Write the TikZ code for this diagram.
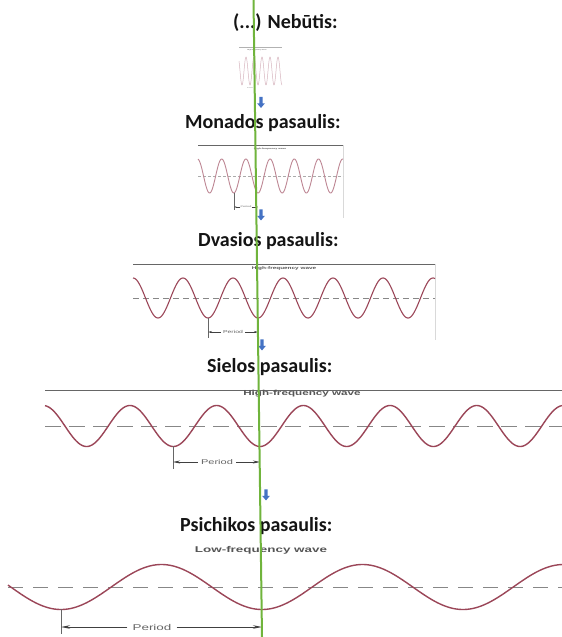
\documentclass[tikz,border=0pt]{standalone}
\usepackage{fontspec}
\setmainfont{Carlito}
\newfontfamily\wideb{Liberation Sans}[FakeStretch=1.6]
\usetikzlibrary{arrows.meta,shapes.arrows}
\definecolor{wavec}{RGB}{155,70,88}
\definecolor{wavelight}{RGB}{190,135,148}
\definecolor{wavefaint}{RGB}{215,180,190}
\definecolor{grn}{RGB}{112,180,60}
\definecolor{blu}{RGB}{68,114,196}
\definecolor{dashc}{RGB}{135,135,135}
\definecolor{labelc}{RGB}{85,85,85}
\definecolor{titlec}{RGB}{20,20,20}
\tikzset{
  title/.style={font=\bfseries\fontsize{20}{24}\selectfont, text=titlec, inner sep=0pt, anchor=base west},
  bluearrow/.style={single arrow, fill=blu, draw=none, rotate=-90, minimum height=11pt, minimum width=7.5pt, single arrow head extend=2.2pt, inner sep=1.4pt, single arrow tip angle=80},
  frameline/.style={draw=black!60, line width=0.7pt},
  sideline/.style={draw=black!15, line width=0.6pt},
  tick/.style={draw=black!60, line width=0.7pt},
  wlabel/.style={text=labelc, inner sep=0pt},
  plabel/.style={text=black!60, inner sep=0pt},
  parrow/.style={draw=black!75, line width=0.6pt},
  greenline/.style={draw=grn, line width=2pt},
}
\begin{document}
\begin{tikzpicture}[x=1pt,y=-1pt]
\fill[white] (0,0) rectangle (562,637);
\useasboundingbox (0,0) rectangle (562,637);

% ---------- Section 1 : Nebutis ----------
\node[title] (t1) at (233,28) {(...) Nebūtis:};
\coordinate (f1a) at (239,47); \coordinate (f1b) at (282,47);
\draw[draw=black!30, line width=0.4pt] (f1a) -- (f1b);
\draw[wavefaint, line width=0.5pt] plot[domain=239:282, samples=220] (\x,{71+14*cos(((\x-258)/8)*360)});
\node[wlabel, font=\wideb\bfseries\fontsize{1.2}{1.4}\selectfont] (l1) at (257,50) {High-frequency wave};
\node[plabel, font=\wideb\fontsize{1.2}{1.4}\selectfont] (p1) at (250,88) {Period};

% ---------- Section 2 : Monados ----------
\node[title] (t2) at (185,128) {Monados pasaulis:};
\coordinate (f2a) at (198,145); \coordinate (f2b) at (343,145); \coordinate (f2c) at (343,218);
\draw[frameline, line width=0.5pt] (f2a) -- (f2b);
\draw[sideline] (f2b) -- (f2c);
\coordinate (d2a) at (198,176); \coordinate (d2b) at (343,176);
\draw[dashc!70, line width=0.6pt, dash pattern=on 3pt off 2pt] (d2a) -- (d2b);
\draw[wavelight, line width=0.9pt] plot[domain=198:343, samples=300] (\x,{176+17*cos(((\x-258)/24.2)*360)});
\node[wlabel, font=\wideb\bfseries\fontsize{2}{2.4}\selectfont] (l2) at (270,149) {High-frequency wave};
\coordinate (k2a) at (234,193); \coordinate (k2b) at (234,210);
\draw[tick, line width=0.4pt] (k2a) -- (k2b);
\node[plabel, font=\wideb\fontsize{2.3}{2.6}\selectfont] (p2) at (246,207) {Period};
\coordinate (a2l) at (234,207); \coordinate (a2r) at (258,207);
\draw[parrow, line width=0.35pt, -{Stealth[length=2.5pt,width=1.4pt]}] (p2.west) -- (a2l);
\draw[parrow, line width=0.35pt, -{Stealth[length=2.5pt,width=1.4pt]}] (p2.east) -- (a2r);

% ---------- Section 3 : Dvasios ----------
\node[title] (t3) at (198,246) {Dvasios pasaulis:};
\coordinate (f3a) at (133,264); \coordinate (f3b) at (435,264); \coordinate (f3c) at (435,340);
\draw[frameline] (f3a) -- (f3b);
\draw[sideline] (f3b) -- (f3c);
\coordinate (d3a) at (133,298); \coordinate (d3b) at (435,298);
\draw[dashc, line width=0.7pt, dash pattern=on 6pt off 4pt] (d3a) -- (d3b);
\draw[wavec, line width=1.1pt] plot[domain=133:435, samples=400] (\x,{298+20*cos(((\x-258)/50)*360)});
\node[wlabel, font=\wideb\bfseries\fontsize{4}{4.8}\selectfont] (l3) at (284,268) {High-frequency wave};
\coordinate (k3a) at (208,318); \coordinate (k3b) at (208,338);
\draw[tick, line width=0.5pt] (k3a) -- (k3b);
\node[plabel, font=\wideb\fontsize{4.3}{5}\selectfont] (p3) at (233,332) {Period};
\coordinate (a3l) at (208,332); \coordinate (a3r) at (258,332);
\draw[parrow, line width=0.5pt, -{Stealth[length=4pt,width=2pt]}] ([xshift=-2pt]p3.west) -- (a3l);
\draw[parrow, line width=0.5pt, -{Stealth[length=4pt,width=2pt]}] ([xshift=2pt]p3.east) -- (a3r);

% ---------- Section 4 : Sielos ----------
\node[title] (t4) at (207,372) {Sielos pasaulis:};
\coordinate (f4a) at (45,390); \coordinate (f4b) at (562,390);
\draw[frameline, line width=0.8pt] (f4a) -- (f4b);
\coordinate (d4a) at (45,426); \coordinate (d4b) at (562,426);
\draw[dashc, line width=0.8pt, dash pattern=on 16pt off 8pt] (d4a) -- (d4b);
\draw[wavec, line width=1.4pt] plot[domain=45:562, samples=500] (\x,{426+20.5*cos(((\x-260)/86.7)*360)});
\node[wlabel, font=\wideb\bfseries\fontsize{7.3}{8}\selectfont] (l4) at (302,394) {High-frequency wave};
\coordinate (k4a) at (173,446); \coordinate (k4b) at (173,469);
\draw[tick] (k4a) -- (k4b);
\node[plabel, font=\wideb\fontsize{6.9}{8}\selectfont] (p4) at (217,462) {Period};
\coordinate (a4l) at (173,462); \coordinate (a4r) at (260,462);
\draw[parrow, line width=0.7pt, -{Stealth[length=7pt,width=3pt]}] ([xshift=-3pt]p4.west) -- (a4l);
\draw[parrow, line width=0.7pt, -{Stealth[length=7pt,width=3pt]}] ([xshift=3pt]p4.east) -- (a4r);

% ---------- Section 5 : Psichikos ----------
\node[title] (t5) at (180,531) {Psichikos pasaulis:};
\coordinate (d5a) at (8,587); \coordinate (d5b) at (562,587);
\draw[dashc, line width=0.9pt, dash pattern=on 15pt off 10pt] (d5a) -- (d5b);
\draw[wavec, line width=1.4pt] plot[domain=8:562, samples=500] (\x,{587+22.5*cos(((\x-262)/201)*360)});
\node[wlabel, font=\wideb\bfseries\fontsize{8.4}{9}\selectfont] (l5) at (261,550) {Low-frequency wave};
\coordinate (k5a) at (61,609); \coordinate (k5b) at (61,634);
\draw[tick] (k5a) -- (k5b);
\node[plabel, font=\wideb\fontsize{8.4}{9}\selectfont] (p5) at (152,627) {Period};
\coordinate (a5l) at (61,627); \coordinate (a5r) at (262,627);
\draw[parrow, line width=0.8pt, -{Stealth[length=9pt,width=3.5pt]}] ([xshift=-5pt]p5.west) -- (a5l);
\draw[parrow, line width=0.8pt, -{Stealth[length=9pt,width=3.5pt]}] ([xshift=5pt]p5.east) -- (a5r);

% ---------- blue arrows ----------
\node[bluearrow] (b1) at (261,101.5) {};
\node[bluearrow] (b2) at (261,214) {};
\node[bluearrow] (b3) at (262,344) {};
\node[bluearrow] (b4) at (266,494) {};

% ---------- green line ----------
\coordinate (gtop) at (253.5,0);
\coordinate (gbot) at (262,637);
\draw[greenline] (gtop) -- (gbot);
\end{tikzpicture}
\end{document}
